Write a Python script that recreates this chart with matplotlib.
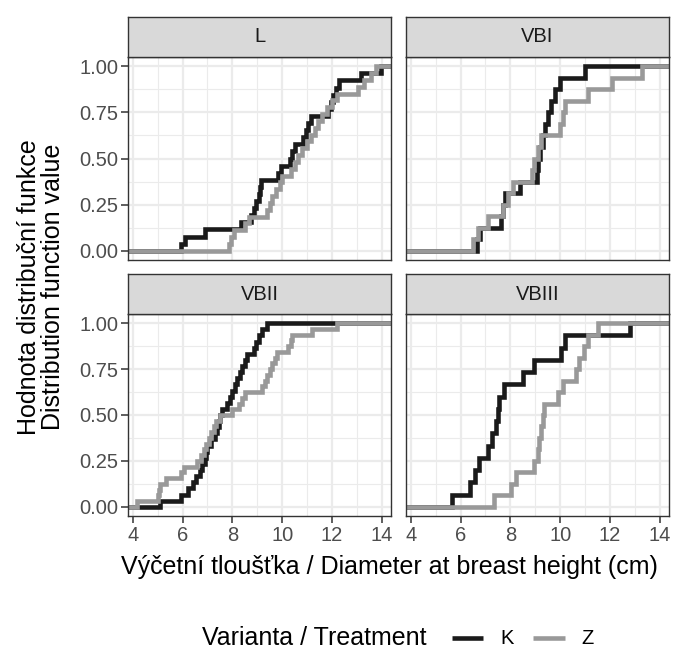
import numpy as np
import matplotlib
matplotlib.use("Agg")
import matplotlib.pyplot as plt

plt.rcParams['font.family'] = ['Liberation Sans', 'DejaVu Sans']

# diameters (cm), sorted, one list per panel and treatment
panels = ['L', 'VBI', 'VBII', 'VBIII']
treatments = ['K', 'Z']

L_K = [5.95, 6.1, 6.9, 8.36, 8.75, 8.85, 8.95, 9.05, 9.1, 9.15, 9.85, 9.95, 10.3,
       10.4, 10.5, 10.85, 10.95, 11.05, 11.15, 11.85, 11.95, 12.05, 12.15, 12.3,
       13.15, 13.95]
L_Z = [7.85, 7.95, 8.05, 8.5, 8.65, 9.4, 9.5, 9.6, 9.75, 9.9, 10.0, 10.35, 10.5,
       10.65, 10.8, 11.0, 11.15, 11.3, 11.45, 11.6, 11.8, 12.0, 12.2, 13.05, 13.3,
       13.55, 13.75]
VBI_K = [6.68, 6.8, 7.62, 7.72, 7.8, 8.4, 9.05, 9.12, 9.2, 9.3, 9.4, 9.5, 9.65,
         9.8, 10.0, 10.98]
VBI_Z = [6.5, 6.7, 7.1, 7.7, 7.9, 8.1, 8.85, 8.95, 9.1, 9.25, 10.0, 10.1, 10.2,
         11.1, 12.1, 13.3]
VBII_K = [5.1, 5.95, 6.2, 6.4, 6.55, 6.7, 6.8, 6.9, 6.95, 7.0, 7.15, 7.3, 7.4,
          7.45, 7.5, 7.6, 7.8, 7.9, 8.0, 8.1, 8.2, 8.3, 8.4, 8.5, 8.6, 8.85, 8.95,
          9.05, 9.2, 9.4]
VBII_Z = [4.16, 5.0, 5.05, 5.1, 5.35, 5.95, 6.05, 6.6, 6.75, 6.85, 6.95, 7.05,
          7.15, 7.25, 7.35, 7.5, 8.0, 8.25, 8.4, 8.5, 9.2, 9.3, 9.4, 9.5, 9.6, 9.7,
          9.8, 10.25, 10.35, 10.4, 11.2, 12.2]
VBIII_K = [5.65, 6.36, 6.6, 6.76, 7.1, 7.27, 7.43, 7.5, 7.56, 7.76, 8.52, 8.96,
           10.03, 10.19, 12.8]
VBIII_Z = [7.36, 8.03, 8.23, 8.96, 9.1, 9.17, 9.23, 9.3, 9.36, 9.9, 10.1, 10.63,
           10.76, 10.96, 11.1, 11.5]

data = {
    'L': (L_K, L_Z),
    'VBI': (VBI_K, VBI_Z),
    'VBII': (VBII_K, VBII_Z),
    'VBIII': (VBIII_K, VBIII_Z),
}

colors = {'K': '#1a1a1a', 'Z': '#999999'}
x_ticks = [4, 6, 8, 10, 12, 14]
y_ticks = [0.0, 0.25, 0.5, 0.75, 1.0]
y_labels = ['0.00', '0.25', '0.50', '0.75', '1.00']

W, H = 678, 650
fig = plt.figure(figsize=(W / 100, H / 100), dpi=100)

cols = [(128, 391), (406, 669)]
rows = [(17, 57, 260), (274, 314, 516)]   # strip top, panel top, panel bottom
xlim = (3.81, 14.37)
ylim = (-0.05, 1.05)
lw_line = 3.3
grid_col = '#EBEBEB'
frame_col = '#333333'
small = 14.5
big = 18


def px_box(x0, y0, x1, y1):
    return [x0 / W, 1 - y1 / H, (x1 - x0) / W, (y1 - y0) / H]


for i, name in enumerate(panels):
    r, c = divmod(i, 2)
    x0, x1 = cols[c]
    st, pt, pb = rows[r]
    ax = fig.add_axes(px_box(x0, pt, x1, pb))
    ax.set_xlim(*xlim)
    ax.set_ylim(*ylim)

    # grid
    for v in [5, 7, 9, 11, 13]:
        ax.axvline(v, color=grid_col, lw=0.8, zorder=0)
    for v in [0.125, 0.375, 0.625, 0.875]:
        ax.axhline(v, color=grid_col, lw=0.8, zorder=0)
    for v in x_ticks:
        ax.axvline(v, color=grid_col, lw=1.6, zorder=0)
    for v in y_ticks:
        ax.axhline(v, color=grid_col, lw=1.6, zorder=0)

    # empirical distribution functions, K first so Z sits on top
    for t, vals in zip(treatments, data[name]):
        v = np.sort(np.array(vals))
        n = len(v)
        xs = np.concatenate([[xlim[0] - 1], v, [xlim[1] + 1]])
        ys = np.concatenate([[0], np.arange(1, n + 1) / n, [1]])
        ax.step(xs, ys, where='post', color=colors[t], lw=lw_line,
                solid_joinstyle='miter', solid_capstyle='butt', zorder=3)

    for s in ax.spines.values():
        s.set_color(frame_col)
        s.set_linewidth(1.0)
        s.set_zorder(5)

    ax.set_xticks(x_ticks)
    ax.set_yticks(y_ticks)
    ax.tick_params(length=5, width=1.1, color=frame_col, labelsize=small,
                   labelcolor='#4D4D4D', pad=2)
    if c == 0:
        ax.set_yticklabels(y_labels)
    else:
        ax.set_yticklabels([])
        ax.tick_params(axis='y', length=0)
    if r == 1:
        ax.set_xticklabels([str(v) for v in x_ticks])
    else:
        ax.set_xticklabels([])
        ax.tick_params(axis='x', length=0)

    # facet strip
    sax = fig.add_axes(px_box(x0, st, x1, pt))
    sax.set_facecolor('#D9D9D9')
    sax.set_xticks([])
    sax.set_yticks([])
    for s in sax.spines.values():
        s.set_color(frame_col)
        s.set_linewidth(1.0)
    sax.text(0.5, 0.5, name, ha='center', va='center', fontsize=small,
             color='#1A1A1A', transform=sax.transAxes)

# axis titles
fig.text(389 / W, 1 - 567 / H, 'Výčetní tloušťka / Diameter at breast height (cm)',
         ha='center', va='center', fontsize=big)
fig.text(41 / W, 1 - 287 / H, 'Hodnota distribuční funkce\nDistribution function value',
         ha='center', va='center', rotation=90, fontsize=big, linespacing=0.95)

# legend
ly = 1 - 638 / H
fig.text(202 / W, ly, 'Varianta / Treatment', ha='left', va='center', fontsize=big)
for t, (a, b, tx) in zip(treatments, [(452, 483, 500), (533, 565, 581)]):
    fig.add_artist(plt.Line2D([a / W, b / W], [ly, ly], color=colors[t], lw=lw_line,
                              solid_capstyle='butt', transform=fig.transFigure))
    fig.text(tx / W, ly, t, ha='left', va='center', fontsize=small)

fig.savefig('out.png', dpi=100, facecolor='white')
